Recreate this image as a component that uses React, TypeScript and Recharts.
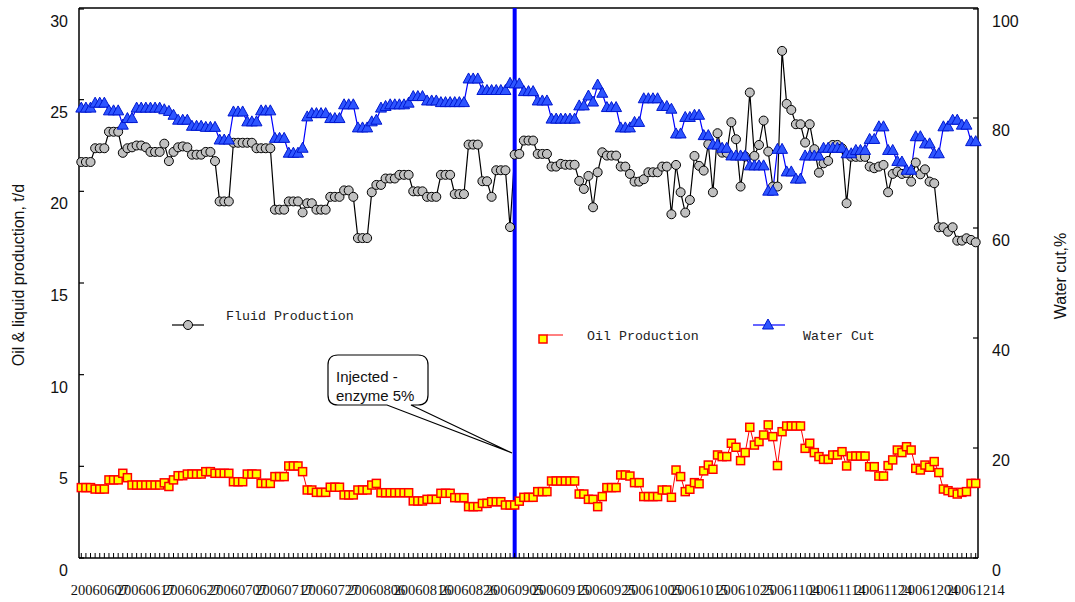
import React from 'react';
import { ComposedChart, Line, XAxis, YAxis, ReferenceLine } from 'recharts';

// Daily categories 20060603 .. 20061214
const FIRST_DAY = Date.UTC(2006, 5, 3);
const DAY_COUNT = 195;
const DATES: string[] = Array.from({ length: DAY_COUNT }, (_, i) => {
  const d = new Date(FIRST_DAY + i * 86400000);
  return `${d.getUTCFullYear()}${String(d.getUTCMonth() + 1).padStart(2, '0')}${String(d.getUTCDate()).padStart(2, '0')}`;
});

const TICK_LABELS = [
  '20060607', '20060617', '20060627', '20060707', '20060717', '20060727', '20060806',
  '20060816', '20060826', '20060905', '20060915', '20060925', '20061005', '20061015',
  '20061025', '20061104', '20061114', '20061124', '20061204', '20061214',
];

const INJECTION_DATE = '20060905';
const LEFT_TICKS = [0, 5, 10, 15, 20, 25, 30];
const RIGHT_TICKS = [0, 20, 40, 60, 80, 100];

const FLUID = [
  21.6, 21.6, 21.6, 22.35, 22.35, 22.35, 23.25, 23.25, 23.25, 22.1,
  22.35, 22.4, 22.5, 22.5, 22.4, 22.15, 22.15, 22.15, 22.6, 21.65,
  22.15, 22.4, 22.45, 22.4, 22.0, 22.0, 22.0, 22.15, 22.15, 21.65,
  19.45, 19.45, 19.45, 22.65, 22.65, 22.65, 22.65, 22.65, 22.35, 22.35,
  22.35, 22.35, 19.0, 19.0, 19.0, 19.45, 19.45, 19.45, 18.85, 19.35,
  19.35, 19.0, 19.0, 19.0, 19.7, 19.7, 19.7, 20.05, 20.05, 19.7,
  17.45, 17.45, 17.45, 19.95, 20.35, 20.35, 20.7, 20.7, 20.7, 20.9,
  20.9, 20.9, 20.0, 20.0, 20.0, 19.7, 19.7, 19.7, 20.9, 20.9,
  20.9, 19.85, 19.85, 19.85, 22.55, 22.55, 22.55, 20.55, 20.55, 19.7,
  21.15, 21.15, 21.15, 18.05, 22.0, 22.04, 22.77, 22.77, 22.77, 22.04,
  22.04, 22.04, 21.35, 21.35, 21.5, 21.45, 21.45, 21.45, 20.57, 20.13,
  20.84, 19.13, 21.04, 22.13, 21.95, 21.95, 21.95, 21.35, 21.35, 20.95,
  20.53, 20.53, 20.66, 21.04, 21.04, 21.04, 21.35, 21.35, 18.75, 21.44,
  19.95, 18.84, 19.53, 21.93, 21.39, 21.13, 22.57, 19.95, 23.17, 22.11,
  22.1, 23.77, 22.84, 20.26, 21.9, 25.39, 21.93, 22.53, 23.86, 22.17,
  20.26, 20.26, 27.66, 24.77, 24.44, 23.66, 23.66, 22.66, 23.66, 22.3,
  21.02, 21.53, 21.66, 22.53, 22.53, 22.35, 19.35, 21.89, 21.88, 21.88,
  21.88, 21.35, 21.26, 21.35, 21.44, 19.95, 20.95, 21.08, 20.95, 21.0,
  20.53, 21.57, 20.93, 21.2, 20.53, 20.44, 18.04, 18.04, 17.8, 18.04,
  17.31, 17.31, 17.44, 17.35, 17.22,
];

const OIL = [
  3.84, 3.84, 3.84, 3.76, 3.76, 3.76, 4.26, 4.26, 4.26, 4.62,
  4.38, 3.98, 3.98, 3.98, 3.98, 3.98, 3.98, 3.98, 4.1, 3.9,
  4.26, 4.49, 4.49, 4.58, 4.58, 4.58, 4.58, 4.71, 4.71, 4.62,
  4.62, 4.62, 4.62, 4.16, 4.16, 4.16, 4.58, 4.58, 4.58, 4.07,
  4.07, 4.07, 4.44, 4.44, 4.44, 5.02, 5.02, 5.02, 4.71, 3.71,
  3.71, 3.58, 3.58, 3.58, 3.86, 3.86, 3.86, 3.44, 3.44, 3.44,
  3.71, 3.71, 3.71, 3.98, 4.07, 3.56, 3.56, 3.56, 3.56, 3.56,
  3.56, 3.56, 3.11, 3.11, 3.11, 3.2, 3.2, 3.2, 3.53, 3.53,
  3.53, 3.29, 3.29, 3.29, 2.8, 2.8, 2.8, 2.98, 2.98, 3.07,
  3.07, 3.07, 2.89, 2.89, 2.89, 3.1, 3.31, 3.31, 3.31, 3.62,
  3.62, 3.62, 4.2, 4.2, 4.2, 4.2, 4.2, 4.2, 3.49, 3.49,
  3.2, 3.2, 2.8, 3.35, 3.84, 3.84, 3.84, 4.53, 4.53, 4.47,
  4.11, 4.11, 3.35, 3.35, 3.35, 3.35, 3.71, 3.71, 3.31, 4.8,
  4.44, 3.62, 3.75, 4.11, 4.05, 4.75, 5.07, 4.84, 5.62, 5.53,
  5.53, 6.26, 6.04, 5.31, 5.75, 7.13, 6.16, 6.35, 6.71, 7.26,
  6.62, 5.04, 6.89, 7.2, 7.2, 7.2, 7.2, 5.98, 6.26, 5.75,
  5.53, 5.38, 5.38, 5.62, 5.62, 5.8, 5.02, 5.56, 5.56, 5.56,
  5.56, 4.98, 4.98, 4.47, 4.47, 5.04, 5.35, 5.89, 5.75, 6.07,
  5.89, 4.89, 4.8, 5.07, 4.95, 5.26, 4.66, 3.76, 3.67, 3.58,
  3.49, 3.58, 3.62, 4.07, 4.07,
];

const WATER = [
  81.8, 81.8, 81.8, 82.7, 82.7, 82.7, 81.3, 81.3, 81.3, 78.7,
  79.9, 79.9, 81.8, 81.8, 81.8, 81.8, 81.8, 81.8, 81.5, 81.2,
  80.5, 79.6, 79.6, 79.6, 78.5, 78.5, 78.5, 78.3, 78.3, 78.3,
  76.0, 76.0, 76.0, 81.1, 81.1, 81.1, 79.3, 79.3, 79.3, 81.3,
  81.3, 81.3, 76.3, 76.3, 76.3, 73.6, 73.6, 73.6, 74.5, 80.2,
  80.8, 80.8, 80.8, 80.8, 79.9, 79.9, 79.9, 82.4, 82.4, 82.4,
  78.2, 78.2, 78.2, 79.3, 79.6, 81.8, 82.1, 82.4, 82.4, 82.4,
  82.4, 82.7, 83.9, 83.9, 83.9, 83.1, 83.1, 83.1, 82.8, 82.8,
  82.8, 82.8, 82.8, 82.8, 87.1, 87.1, 87.1, 85.0, 85.0, 85.0,
  85.0, 85.0, 85.0, 86.3, 86.2, 86.2, 84.8, 84.8, 84.8, 83.1,
  83.1, 83.1, 79.8, 79.8, 79.8, 79.8, 79.8, 79.8, 82.2, 82.2,
  84.0, 82.9, 86.0, 84.5, 81.9, 81.9, 81.9, 78.2, 78.2, 78.2,
  79.2, 79.2, 83.5, 83.5, 83.5, 83.5, 82.1, 82.1, 81.6, 77.1,
  77.1, 80.1, 80.1, 80.5, 80.5, 76.8, 76.8, 75.1, 75.1, 74.5,
  74.5, 73.1, 73.1, 73.1, 73.1, 71.3, 71.3, 71.3, 71.3, 66.7,
  66.7, 74.3, 74.3, 70.2, 70.2, 68.9, 68.9, 73.1, 73.1, 73.1,
  73.1, 74.5, 74.5, 74.5, 74.5, 74.5, 73.5, 73.5, 74.1, 74.1,
  74.1, 76.1, 76.1, 78.4, 78.4, 74.1, 74.1, 72.1, 72.0, 70.5,
  70.5, 76.6, 76.6, 75.3, 75.3, 73.5, 73.5, 78.4, 78.4, 79.6,
  79.6, 78.7, 78.7, 75.7, 75.7,
];

const data = DATES.map((date, i) => ({
  date,
  fluid: FLUID[i],
  oil: OIL[i],
  water: WATER[i],
}));

const NUM_FONT = 'Liberation Sans, Arial, sans-serif';
const LEGEND_FONT = 'Liberation Mono, DejaVu Sans Mono, monospace';

const XTick = (props: any) => {
  const { x, y, payload } = props;
  const labelled = TICK_LABELS.includes(payload.value);
  return (
    <g>
      <line x1={x} x2={x} y1={y} y2={y - 5} stroke="#000" strokeWidth={1} />
      {labelled && (
        <text x={x} y={y + 37} textAnchor="middle" fontFamily="Liberation Serif, Times New Roman, serif" fontSize={14.5} fill="#111">
          {payload.value}
        </text>
      )}
    </g>
  );
};

const LeftTick = (props: any) => {
  const { x, y, payload } = props;
  return (
    <g>
      <line x1={x} x2={x + 5} y1={y} y2={y} stroke="#000" strokeWidth={1.2} />
      <text x={x - 11} y={y + 18} textAnchor="end" fontFamily={NUM_FONT} fontSize={16} fill="#111">
        {payload.value}
      </text>
    </g>
  );
};

const RightTick = (props: any) => {
  const { x, y, payload } = props;
  return (
    <g>
      <line x1={x} x2={x - 5} y1={y} y2={y} stroke="#000" strokeWidth={1.2} />
      <text x={x + 14} y={y + 18} textAnchor="start" fontFamily={NUM_FONT} fontSize={16} fill="#111">
        {payload.value}
      </text>
    </g>
  );
};

const CircleDot = (props: any) => {
  const { cx, cy, index } = props;
  if (cx == null || cy == null) return <g key={`c-${index}`} />;
  return <circle key={`c-${index}`} cx={cx} cy={cy} r={4.5} fill="#c0c0c0" stroke="#000" strokeWidth={1} />;
};

const SquareDot = (props: any) => {
  const { cx, cy, index } = props;
  if (cx == null || cy == null) return <g key={`s-${index}`} />;
  return <rect key={`s-${index}`} x={cx - 4} y={cy - 4} width={8} height={8} fill="#ffff00" stroke="#ff0000" strokeWidth={1.5} />;
};

const TriangleDot = (props: any) => {
  const { cx, cy, index } = props;
  if (cx == null || cy == null) return <g key={`t-${index}`} />;
  return (
    <polygon
      key={`t-${index}`}
      points={`${cx},${cy - 6} ${cx - 5.5},${cy + 4} ${cx + 5.5},${cy + 4}`}
      fill="#2e55ff"
      stroke="#0018d0"
      strokeWidth={1}
    />
  );
};

const Decorations = () => (
  <g>
    {/* axis titles */}
    <text
      transform="translate(24,275) rotate(-90)"
      textAnchor="middle"
      fontFamily={NUM_FONT}
      fontSize={16}
      fill="#111"
    >
      Oil &amp; liquid production, t/d
    </text>
    <text
      transform="translate(1066,276) rotate(-90)"
      textAnchor="middle"
      fontFamily={NUM_FONT}
      fontSize={16}
      fill="#111"
    >
      Water cut,%
    </text>

    {/* legend */}
    <line x1={172} x2={204} y1={325} y2={325} stroke="#000" strokeWidth={1.2} />
    <circle cx={188} cy={325} r={4.5} fill="#c0c0c0" stroke="#000" strokeWidth={1} />
    <text x={226} y={320} fontFamily={LEGEND_FONT} fontSize={13.3} fill="#222">Fluid Production</text>

    <line x1={547} x2={563} y1={335} y2={335} stroke="#ff0000" strokeWidth={1} />
    <rect x={539} y={335} width={8} height={8} fill="#ffff00" stroke="#ff0000" strokeWidth={1.5} />
    <text x={587} y={340} fontFamily={LEGEND_FONT} fontSize={13.3} fill="#222">Oil Production</text>

    <line x1={753} x2={785} y1={325} y2={325} stroke="#0000ff" strokeWidth={1.2} />
    <polygon points="768,319 762.5,329 773.5,329" fill="#2e55ff" stroke="#0018d0" strokeWidth={1} />
    <text x={803} y={340} fontFamily={LEGEND_FONT} fontSize={13.3} fill="#222">Water Cut</text>

    {/* callout */}
    <path
      d="M 387 405 L 338 405 Q 328 405 328 395 L 328 365 Q 328 355 338 355 L 418 355 Q 428 355 428 365 L 428 395 Q 428 405 418 405 L 411 405 L 512 453 Z"
      fill="#fff"
      stroke="#000"
      strokeWidth={1.2}
    />
    <text x={336} y={382} fontFamily={NUM_FONT} fontSize={15} fill="#111">Injected -</text>
    <text x={336} y={401} fontFamily={NUM_FONT} fontSize={15} fill="#111">enzyme 5%</text>
  </g>
);

export default function App() {
  return (
    <div style={{ position: 'fixed', left: 0, top: 0, width: 1075, height: 602, background: '#fff' }}>
      <ComposedChart
        width={1075}
        height={602}
        data={data}
        margin={{ top: 8, right: 0, bottom: 0, left: 0 }}
      >
        <XAxis
          dataKey="date"
          scale="band"
          interval={0}
          height={44}
          tickSize={0}
          tickMargin={0}
          tickLine={false}
          axisLine={{ stroke: '#000', strokeWidth: 1.5 }}
          tick={<XTick />}
        />
        <YAxis
          yAxisId="left"
          domain={[0, 30]}
          ticks={LEFT_TICKS}
          width={79}
          tickSize={0}
          tickMargin={0}
          tickLine={false}
          axisLine={{ stroke: '#000', strokeWidth: 1.5 }}
          tick={<LeftTick />}
          allowDataOverflow
        />
        <YAxis
          yAxisId="right"
          orientation="right"
          domain={[0, 100]}
          ticks={RIGHT_TICKS}
          width={97}
          tickSize={0}
          tickMargin={0}
          tickLine={false}
          axisLine={{ stroke: '#000', strokeWidth: 1.5 }}
          tick={<RightTick />}
          allowDataOverflow
        />
        <ReferenceLine yAxisId="left" y={30} stroke="#000" strokeWidth={1.5} />
        <Line
          yAxisId="left"
          type="linear"
          dataKey="fluid"
          stroke="#000"
          strokeWidth={1.2}
          dot={CircleDot}
          activeDot={false}
          isAnimationActive={false}
        />
        <Line
          yAxisId="left"
          type="linear"
          dataKey="oil"
          stroke="#ff0000"
          strokeWidth={1}
          dot={SquareDot}
          activeDot={false}
          isAnimationActive={false}
        />
        <Line
          yAxisId="right"
          type="linear"
          dataKey="water"
          stroke="#0000ff"
          strokeWidth={1.2}
          dot={TriangleDot}
          activeDot={false}
          isAnimationActive={false}
        />
        <ReferenceLine yAxisId="left" x={INJECTION_DATE} stroke="#0000ff" strokeWidth={4} />
        <Decorations />
      </ComposedChart>
    </div>
  );
}
